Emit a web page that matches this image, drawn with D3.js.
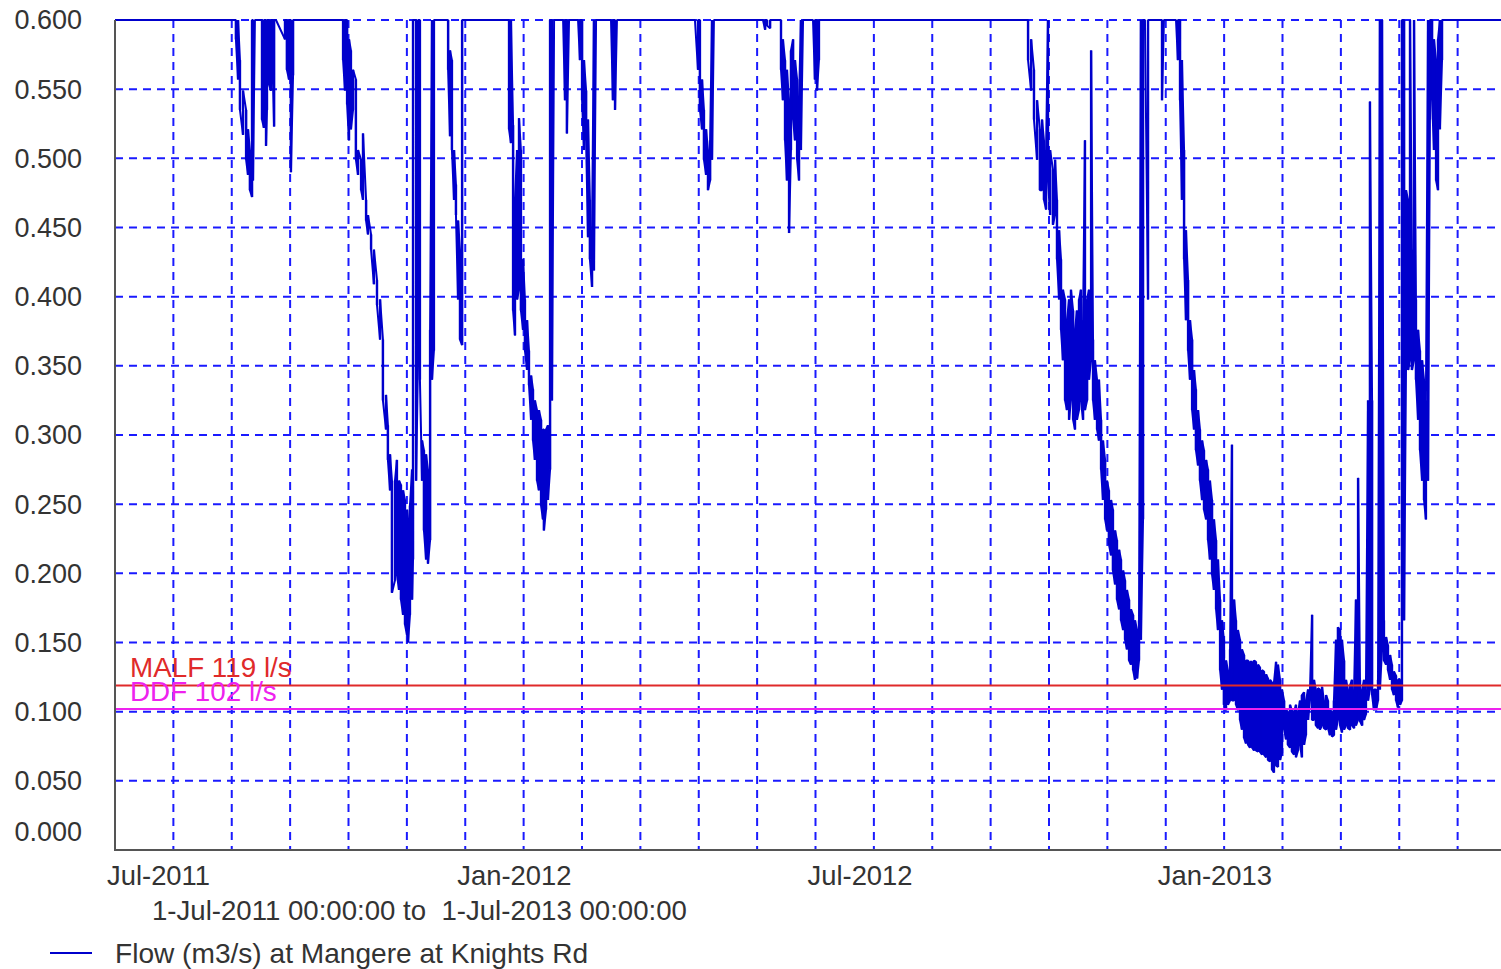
<!DOCTYPE html>
<html>
<head>
<meta charset="utf-8">
<script src="https://cdn.jsdelivr.net/npm/d3@7"></script>
<style>
  html, body { margin: 0; padding: 0; background: #fff; }
  svg { display: block; }
  text { font-family: "Liberation Sans", Arial, sans-serif; }
</style>
</head>
<body>
<svg id="chart" width="1501" height="969"></svg>
<script>
// ---------------- DATA ----------------
const periodStart = "2011-07-01T00:00:00";
const periodEnd = "2013-07-01T00:00:00";
const periodLabel = "1-Jul-2011 00:00:00 to  1-Jul-2013 00:00:00";
const seriesName = "Flow (m3/s) at Mangere at Knights Rd";

const yTickValues = [0, 0.05, 0.1, 0.15, 0.2, 0.25, 0.3, 0.35, 0.4, 0.45, 0.5, 0.55, 0.6];
const xTickLabels = ["Jul-2011", "Jan-2012", "Jul-2012", "Jan-2013"];
const xLabelGridIndex = [0, 6, 12, 18];

const malfValue = 0.119, malfLabel = "MALF 119 l/s";
const ddfValue = 0.102, ddfLabel = "DDF 102 l/s";

// Flow record: days after 1-Jul-2011, and the lowest / highest
// flow seen around that time (values above 0.6 run off the top of the plot).
const sampleDay = [
  0,
  61.6, 63.1, 64.2, 65.2, 66.8, 68.4, 69.4, 70.4, 71.5, 72.0, 73.0,
  76.7, 77.7, 78.8, 79.3, 80.4, 81.4, 82.4, 83.0, 84.0,
  88.7, 89.7, 90.8, 91.8, 92.9, 93.9,
  117.4, 119.0, 120.0, 121.1, 122.1, 123.1, 124.2, 125.7, 126.8, 128.4, 129.4, 131.0, 132.0, 133.6,
  135.1, 136.7, 138.3, 139.8, 141.4, 142.4, 143.5, 144.5, 146.1, 147.1, 148.2, 149.2, 150.3, 151.3,
  152.4, 152.9, 153.9, 155.0, 155.5, 157.1, 158.1, 159.1, 160.2, 161.2, 162.3, 163.3, 164.4, 165.4,
  166.4, 167.5,
  172.7, 173.8, 174.8, 175.8, 176.9, 177.9, 179.0, 180.0, 181.1, 182.6,
  203.5, 205.6, 206.6, 207.7, 208.7, 209.8, 210.8, 211.8, 212.9, 213.9, 215.0, 216.0, 217.1, 218.1,
  219.1, 220.2, 221.2, 222.3, 223.3, 223.8, 224.9, 225.9, 227.0, 228.0, 229.1,
  233.8, 234.8, 235.8, 236.9,
  241.6, 242.6, 243.7, 244.7, 245.8, 246.8, 247.8, 248.9, 249.9, 251.0,
  258.8, 259.8, 260.9, 261.9,
  302.6, 304.2, 305.2, 306.3, 307.3, 308.4, 309.4, 310.5, 311.5, 312.5,
  338.1, 339.2, 340.2, 341.8, 342.8,
  346.5, 347.5, 348.5, 349.6, 350.6, 351.7, 352.7, 353.8, 354.8, 355.9, 356.9, 357.9, 359.0,
  364.2, 365.2, 366.3, 367.3, 368.4,
  474.8, 476.4, 478.0, 479.5, 481.1, 482.6, 483.7, 484.7, 485.8, 486.8, 487.9, 489.4, 490.5, 491.5,
  492.6, 493.6, 494.6, 495.7, 496.7, 497.8, 498.8, 499.9, 500.9, 501.9, 503.0, 504.0, 505.1, 506.1,
  507.2, 508.2, 509.3, 510.3, 511.3, 512.4, 513.4, 514.5, 515.5, 516.6, 517.6, 518.6, 519.7, 520.7,
  521.8, 522.8, 523.9, 524.9, 526.0, 527.0, 528.0, 529.1, 530.1, 531.2, 532.2, 533.3, 534.3, 535.3,
  536.4, 537.4, 539.0, 540.0,
  545.3, 546.3, 547.3,
  553.6, 554.6, 555.7, 556.7, 557.8, 558.8, 559.9, 560.9, 562.0, 563.0, 564.0, 565.1, 566.1, 567.2,
  568.2, 569.3, 570.3, 571.3, 572.4, 573.4, 574.5, 575.5, 576.6, 577.6, 578.6, 579.7, 580.7, 581.8,
  582.8, 583.9, 584.9, 585.9, 587.0, 588.0, 589.1, 590.1, 591.2, 592.2, 593.3, 594.3, 595.3, 596.4,
  597.4, 598.5, 599.5, 600.6, 601.6, 602.7, 603.7, 604.7, 605.8, 606.8, 607.9, 608.9, 610.0, 611.0,
  612.0, 613.1, 614.1, 615.2, 616.2, 617.3, 618.3, 619.3, 620.4, 621.4, 622.5, 623.5, 624.6, 625.6,
  626.6, 627.7, 628.7, 629.8, 630.8, 631.9, 632.9, 633.9, 635.0, 636.0, 637.1, 638.1, 639.2, 640.2,
  641.3, 642.3, 643.3, 644.4, 645.4, 646.5, 647.5, 648.6, 649.6, 650.7, 651.7, 652.7, 653.8, 654.8,
  655.9, 656.9, 658.0, 659.0, 660.0, 661.1, 662.1, 663.2, 664.2, 665.3, 666.3, 667.3, 668.4, 669.4,
  670.5, 671.5, 672.6, 673.6, 674.7, 675.7, 676.7, 677.8, 678.8, 679.9, 680.9, 682.0, 683.0, 684.0,
  685.1, 686.1, 687.2, 688.2, 689.3, 690.3, 691.3, 692.4, 693.4,
  731
];
const flowLow = [
  0.6,
  0.6, 0.586, 0.557, 0.535, 0.517, 0.499, 0.488, 0.477, 0.472, 0.484, 0.6,
  0.528, 0.522, 0.509, 0.535, 0.553, 0.549, 0.557, 0.523, 0.6,
  0.586, 0.564, 0.557, 0.490, 0.560, 0.6,
  0.6, 0.571, 0.549, 0.539, 0.513, 0.521, 0.535, 0.499, 0.488, 0.477, 0.470, 0.455, 0.445, 0.434,
  0.409, 0.394, 0.369, 0.325, 0.304, 0.282, 0.260, 0.186, 0.195, 0.199, 0.188, 0.181, 0.170, 0.163,
  0.155, 0.150, 0.170, 0.181, 0.210, 0.267, 0.354, 0.340, 0.267, 0.231, 0.210, 0.207, 0.224, 0.340,
  0.361, 0.6,
  0.6, 0.564, 0.516, 0.506, 0.470, 0.459, 0.398, 0.369, 0.365, 0.6,
  0.6, 0.521, 0.511, 0.390, 0.372, 0.398, 0.405, 0.390, 0.376, 0.361, 0.347, 0.336, 0.311, 0.296,
  0.282, 0.267, 0.260, 0.249, 0.239, 0.231, 0.246, 0.253, 0.275, 0.325, 0.6,
  0.6, 0.542, 0.518, 0.6,
  0.6, 0.571, 0.542, 0.506, 0.513, 0.443, 0.427, 0.407, 0.419, 0.6,
  0.6, 0.542, 0.535, 0.6,
  0.6, 0.564, 0.535, 0.521, 0.499, 0.488, 0.477, 0.484, 0.499, 0.6,
  0.6, 0.593, 0.596, 0.594, 0.6,
  0.6, 0.564, 0.542, 0.513, 0.484, 0.446, 0.506, 0.528, 0.513, 0.499, 0.484, 0.506, 0.6,
  0.6, 0.557, 0.549, 0.571, 0.6,
  0.6, 0.571, 0.549, 0.528, 0.499, 0.477, 0.477, 0.470, 0.463, 0.484, 0.459, 0.452, 0.459, 0.427,
  0.398, 0.376, 0.354, 0.325, 0.318, 0.311, 0.325, 0.311, 0.304, 0.311, 0.318, 0.325, 0.311, 0.318,
  0.325, 0.340, 0.354, 0.325, 0.311, 0.304, 0.296, 0.275, 0.253, 0.239, 0.231, 0.221, 0.213, 0.202,
  0.192, 0.181, 0.174, 0.166, 0.159, 0.152, 0.145, 0.137, 0.134, 0.130, 0.123, 0.124, 0.137, 0.152,
  0.239, 0.6, 0.398, 0.6,
  0.6, 0.542, 0.6,
  0.6, 0.571, 0.542, 0.470, 0.427, 0.383, 0.361, 0.340, 0.318, 0.304, 0.289, 0.278, 0.267, 0.253,
  0.246, 0.239, 0.224, 0.210, 0.199, 0.188, 0.174, 0.159, 0.130, 0.116, 0.105, 0.101, 0.105, 0.108,
  0.108, 0.108, 0.105, 0.101, 0.094, 0.087, 0.081, 0.077, 0.076, 0.074, 0.074, 0.072, 0.072, 0.071,
  0.071, 0.069, 0.069, 0.067, 0.065, 0.064, 0.058, 0.056, 0.061, 0.060, 0.065, 0.070, 0.087, 0.080,
  0.076, 0.074, 0.071, 0.069, 0.067, 0.072, 0.076, 0.067, 0.076, 0.083, 0.094, 0.108, 0.094, 0.094,
  0.090, 0.088, 0.087, 0.090, 0.088, 0.087, 0.088, 0.083, 0.082, 0.083, 0.087, 0.094, 0.090, 0.085,
  0.087, 0.090, 0.088, 0.087, 0.090, 0.088, 0.090, 0.094, 0.093, 0.090, 0.094, 0.098, 0.108, 0.116,
  0.112, 0.101, 0.101, 0.108, 0.116, 0.145, 0.137, 0.134, 0.130, 0.123, 0.116, 0.112, 0.108, 0.103,
  0.105, 0.108, 0.166, 0.347, 0.347, 0.354, 0.347, 0.354, 0.340, 0.311, 0.289, 0.267, 0.253, 0.239,
  0.267, 0.528, 0.542, 0.506, 0.484, 0.477, 0.521, 0.571, 0.6,
  0.6
];
const flowHigh = [
  0.6,
  0.6, 0.6, 0.6, 0.571, 0.549, 0.535, 0.521, 0.506, 0.6, 0.6, 0.6,
  0.6, 0.6, 0.6, 0.6, 0.6, 0.6, 0.6, 0.6, 0.6,
  0.6, 0.6, 0.6, 0.6, 0.6, 0.6,
  0.6, 0.6, 0.6, 0.6, 0.586, 0.578, 0.564, 0.557, 0.506, 0.499, 0.518, 0.470, 0.459, 0.445,
  0.434, 0.412, 0.398, 0.369, 0.329, 0.307, 0.286, 0.267, 0.267, 0.282, 0.267, 0.264, 0.260, 0.253,
  0.246, 0.239, 0.249, 0.275, 0.6, 0.6, 0.6, 0.6, 0.296, 0.289, 0.286, 0.275, 0.376, 0.6,
  0.6, 0.6,
  0.6, 0.6, 0.578, 0.571, 0.506, 0.481, 0.455, 0.434, 0.6, 0.6,
  0.6, 0.6, 0.6, 0.524, 0.470, 0.506, 0.529, 0.506, 0.427, 0.398, 0.383, 0.361, 0.343, 0.333,
  0.325, 0.318, 0.318, 0.311, 0.304, 0.304, 0.304, 0.307, 0.6, 0.6, 0.6,
  0.6, 0.6, 0.6, 0.6,
  0.6, 0.6, 0.6, 0.571, 0.549, 0.528, 0.470, 0.448, 0.6, 0.6,
  0.6, 0.6, 0.6, 0.6,
  0.6, 0.6, 0.6, 0.557, 0.535, 0.521, 0.506, 0.513, 0.6, 0.6,
  0.6, 0.6, 0.6, 0.6, 0.6,
  0.6, 0.6, 0.586, 0.571, 0.564, 0.542, 0.578, 0.586, 0.571, 0.557, 0.542, 0.6, 0.6,
  0.6, 0.6, 0.6, 0.6, 0.6,
  0.6, 0.6, 0.586, 0.564, 0.542, 0.521, 0.528, 0.513, 0.506, 0.6, 0.506, 0.492, 0.499, 0.470,
  0.448, 0.427, 0.405, 0.398, 0.383, 0.398, 0.405, 0.390, 0.376, 0.390, 0.398, 0.405, 0.383, 0.513,
  0.398, 0.405, 0.578, 0.369, 0.354, 0.340, 0.340, 0.311, 0.296, 0.282, 0.267, 0.260, 0.253, 0.246,
  0.231, 0.224, 0.217, 0.210, 0.202, 0.195, 0.188, 0.181, 0.174, 0.170, 0.166, 0.159, 0.166, 0.6,
  0.6, 0.6, 0.6, 0.6,
  0.6, 0.6, 0.6,
  0.6, 0.6, 0.6, 0.571, 0.506, 0.448, 0.412, 0.383, 0.369, 0.347, 0.333, 0.318, 0.304, 0.296,
  0.289, 0.282, 0.275, 0.267, 0.253, 0.239, 0.224, 0.210, 0.181, 0.166, 0.152, 0.137, 0.130, 0.145,
  0.293, 0.181, 0.166, 0.159, 0.152, 0.145, 0.141, 0.137, 0.137, 0.136, 0.136, 0.137, 0.136, 0.134,
  0.132, 0.130, 0.129, 0.127, 0.124, 0.123, 0.121, 0.121, 0.136, 0.134, 0.123, 0.116, 0.108, 0.101,
  0.100, 0.105, 0.101, 0.100, 0.105, 0.100, 0.108, 0.112, 0.114, 0.108, 0.116, 0.116, 0.170, 0.123,
  0.116, 0.117, 0.116, 0.118, 0.108, 0.112, 0.108, 0.101, 0.100, 0.108, 0.152, 0.161, 0.159, 0.152,
  0.137, 0.123, 0.116, 0.119, 0.123, 0.116, 0.181, 0.269, 0.123, 0.116, 0.123, 0.116, 0.325, 0.541,
  0.325, 0.116, 0.116, 0.123, 0.6, 0.6, 0.166, 0.154, 0.148, 0.141, 0.134, 0.129, 0.126, 0.123,
  0.123, 0.6, 0.6, 0.477, 0.470, 0.6, 0.434, 0.6, 0.398, 0.376, 0.361, 0.354, 0.340, 0.325,
  0.6, 0.6, 0.6, 0.586, 0.571, 0.586, 0.6, 0.6, 0.6,
  0.6
];

// ---------------- CHART ----------------
const svg = d3.select("#chart");
const plotLeft = 115, plotTop = 20, plotBottom = 850, plotRight = 1516, viewRight = 1501;
const t0 = new Date(periodStart), t1 = new Date(periodEnd);
const dayMs = 864e5;

const x = d3.scaleTime().domain([t0, t1]).range([plotLeft, plotRight]);
const y = d3.scaleLinear().domain([0, 0.6]).range([plotBottom, plotTop]).clamp(true);

svg.append("rect").attr("width", 1501).attr("height", 969).attr("fill", "#fff");

svg.append("defs").append("clipPath").attr("id", "plotclip")
  .append("rect").attr("x", plotLeft).attr("y", plotTop - 1)
  .attr("width", viewRight - plotLeft).attr("height", plotBottom - plotTop + 2);

const gridColor = "#1a1aff";
const grid = svg.append("g");
grid.selectAll("line.h").data(yTickValues.filter(v => v > 0)).join("line")
  .attr("x1", plotLeft).attr("x2", viewRight)
  .attr("y1", d => y(d)).attr("y2", d => y(d))
  .attr("stroke", gridColor).attr("stroke-width", 2).attr("stroke-dasharray", "8,6");
const gridTimes = d3.range(0, 25).map(i => new Date(+t0 + i * (t1 - t0) / 24));
grid.selectAll("line.v").data(gridTimes.slice(1)).join("line")
  .attr("x1", d => x(d)).attr("x2", d => x(d))
  .attr("y1", plotTop).attr("y2", plotBottom)
  .attr("stroke", gridColor).attr("stroke-width", 2).attr("stroke-dasharray", "8,6");

// data
const dataColor = "#0000cc";
const n = Math.min(sampleDay.length, flowLow.length, flowHigh.length);
const samples = d3.range(n).map(i => ({
  t: new Date(+t0 + sampleDay[i] * dayMs), lo: flowLow[i], hi: flowHigh[i]
}));
const pts = [];
samples.forEach((s, i) => {
  if (i % 2 === 0) { pts.push([s.t, s.hi], [s.t, s.lo]); }
  else { pts.push([s.t, s.lo], [s.t, s.hi]); }
});
const dataG = svg.append("g").attr("clip-path", "url(#plotclip)");
// per-sample range bars (dense record, shown as min-max at each time)
dataG.selectAll("rect").data(samples.filter(s => s.hi > s.lo)).join("rect")
  .attr("x", s => x(s.t) - 1.2).attr("width", 2.4)
  .attr("y", s => y(s.hi)).attr("height", s => Math.max(0, y(s.lo) - y(s.hi)))
  .attr("fill", dataColor);
const line = d3.line().x(p => x(p[0])).y(p => y(p[1]));
dataG.append("path").datum(pts)
  .attr("d", line)
  .attr("fill", "none").attr("stroke", dataColor).attr("stroke-width", 2)
  .attr("stroke-linejoin", "bevel");

// reference lines
svg.append("line").attr("x1", plotLeft).attr("x2", viewRight)
  .attr("y1", y(malfValue)).attr("y2", y(malfValue))
  .attr("stroke", "#e02a2a").attr("stroke-width", 2);
svg.append("line").attr("x1", plotLeft).attr("x2", viewRight)
  .attr("y1", y(ddfValue)).attr("y2", y(ddfValue))
  .attr("stroke", "#ee22ee").attr("stroke-width", 2);

// axes frame
svg.append("line").attr("x1", plotLeft).attr("x2", plotLeft).attr("y1", plotTop).attr("y2", plotBottom)
  .attr("stroke", "#555").attr("stroke-width", 2);
svg.append("line").attr("x1", plotLeft - 1).attr("x2", viewRight).attr("y1", plotBottom).attr("y2", plotBottom)
  .attr("stroke", "#555").attr("stroke-width", 2);

const textColor = "#333";
const fmt = d3.format(".3f");
svg.append("g").selectAll("text").data(yTickValues).join("text")
  .attr("x", 82)
  .attr("y", d => d === 0 ? y(d) - 18 : y(d))
  .attr("dy", "0.35em")
  .attr("text-anchor", "end")
  .attr("font-size", 27).attr("fill", textColor)
  .text(d => fmt(d));

svg.append("g").selectAll("text").data(xTickLabels).join("text")
  .attr("x", (d, i) => x(gridTimes[xLabelGridIndex[i]]) - 8)
  .attr("y", 885)
  .attr("font-size", 27.4).attr("fill", textColor)
  .text(d => d);

svg.append("text").attr("x", 152).attr("y", 920)
  .attr("xml:space", "preserve").style("white-space", "pre")
  .attr("font-size", 27.6).attr("fill", textColor)
  .text(periodLabel);

svg.append("text").attr("x", 130).attr("y", 677)
  .attr("font-size", 27.8).attr("fill", "#e02a2a").text(malfLabel);
svg.append("text").attr("x", 130).attr("y", 701)
  .attr("font-size", 27.8).attr("fill", "#ee22ee").text(ddfLabel);

// legend
svg.append("line").attr("x1", 50).attr("x2", 92).attr("y1", 953).attr("y2", 953)
  .attr("stroke", dataColor).attr("stroke-width", 2);
svg.append("text").attr("x", 115).attr("y", 963)
  .attr("font-size", 28.1).attr("fill", textColor).text(seriesName);
</script>
</body>
</html>
